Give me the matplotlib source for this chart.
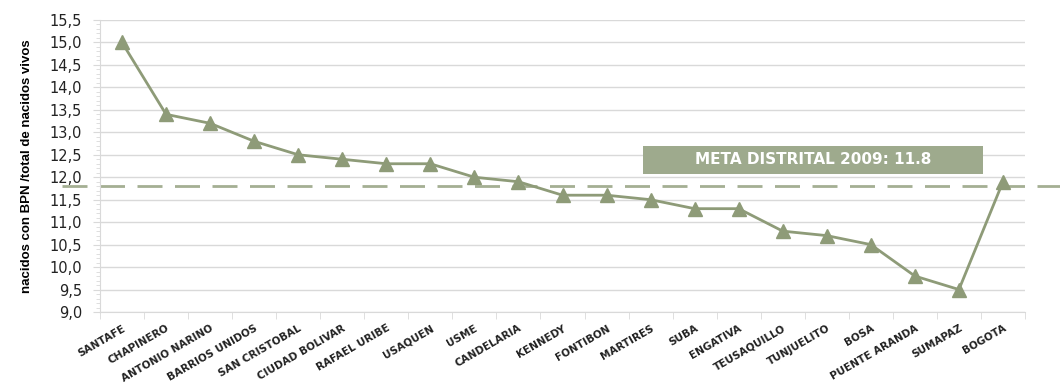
import matplotlib.pyplot as plt
from matplotlib.ticker import MultipleLocator, FuncFormatter
from matplotlib.patches import Rectangle
import numpy as np

localidades = ["SANTAFE", "CHAPINERO", "ANTONIO NARINO", "BARRIOS UNIDOS", "SAN CRISTOBAL",
               "CIUDAD BOLIVAR", "RAFAEL URIBE", "USAQUEN", "USME", "CANDELARIA",
               "KENNEDY", "FONTIBON", "MARTIRES", "SUBA", "ENGATIVA", "TEUSAQUILLO",
               "TUNJUELITO", "BOSA", "PUENTE ARANDA", "SUMAPAZ", "BOGOTA"]
bpn = [15.0, 13.4, 13.2, 12.8, 12.5, 12.4, 12.3, 12.3, 12.0, 11.9,
       11.6, 11.6, 11.5, 11.3, 11.3, 10.8, 10.7, 10.5, 9.8, 9.5, 11.9]
meta = 11.8
meta_label = "META DISTRITAL 2009: 11.8"
ylabel = "nacidos con BPN /total de nacidos vivos"

line_c = "#8E9B78"
box_c = "#9EAA8D"
grid_c = "#D9D9D9"

fig = plt.figure(figsize=(10.6, 3.87), dpi=100)
ax = fig.add_axes([100/1060, 1 - 312/387, 925/1060, 292/387])

x = np.arange(len(localidades))
ax.plot(x, bpn, color=line_c, lw=2, marker="^", ms=10, mfc=line_c, mec=line_c, zorder=3)

ax.set_xlim(-0.5, len(localidades) - 0.5)
ax.set_ylim(9.0, 15.5)
ax.yaxis.set_major_locator(MultipleLocator(0.5))
ax.yaxis.set_minor_locator(MultipleLocator(0.1))
ax.yaxis.set_major_formatter(FuncFormatter(lambda v, p: f"{v:.1f}".replace(".", ",")))
ax.grid(axis="y", color=grid_c, lw=1)
ax.set_axisbelow(True)

for s in ["top", "right"]:
    ax.spines[s].set_visible(False)
for s in ["left", "bottom"]:
    ax.spines[s].set_color(grid_c)

ax.set_xticks(x)
ax.set_xticklabels(localidades, rotation=30, ha="right", rotation_mode="anchor",
                   fontsize=7.5, fontweight="bold", color="#222222")
ax.set_xticks(np.arange(len(localidades) + 1) - 0.5, minor=True)
ax.tick_params(axis="x", which="major", length=0, pad=8)
ax.tick_params(axis="x", which="minor", length=5, color=grid_c)
ax.tick_params(axis="y", which="major", length=5, pad=8, color=grid_c, labelsize=10.5,
               labelcolor="#222222")
ax.tick_params(axis="y", which="minor", length=3, color=grid_c)

ax.set_ylabel(ylabel, fontsize=9.5, fontweight="bold", family=["Liberation Sans", "DejaVu Sans"],
              labelpad=12)

# meta line, extending across the whole figure width
ax.axhline(meta, xmin=-0.041, xmax=1.05, color=line_c, lw=2, ls=(0, (9, 4.5)),
           clip_on=False, zorder=2, alpha=0.8)

# annotation box for the meta value
ax.add_patch(Rectangle((11.82, 12.08), 7.73, 0.62, fc=box_c, ec="none", zorder=4))
ax.text(11.82 + 7.73 / 2, 12.39, meta_label, ha="center", va="center", fontsize=11,
        fontweight="bold", color="white", zorder=5)

fig.savefig("out.png", dpi=100)
